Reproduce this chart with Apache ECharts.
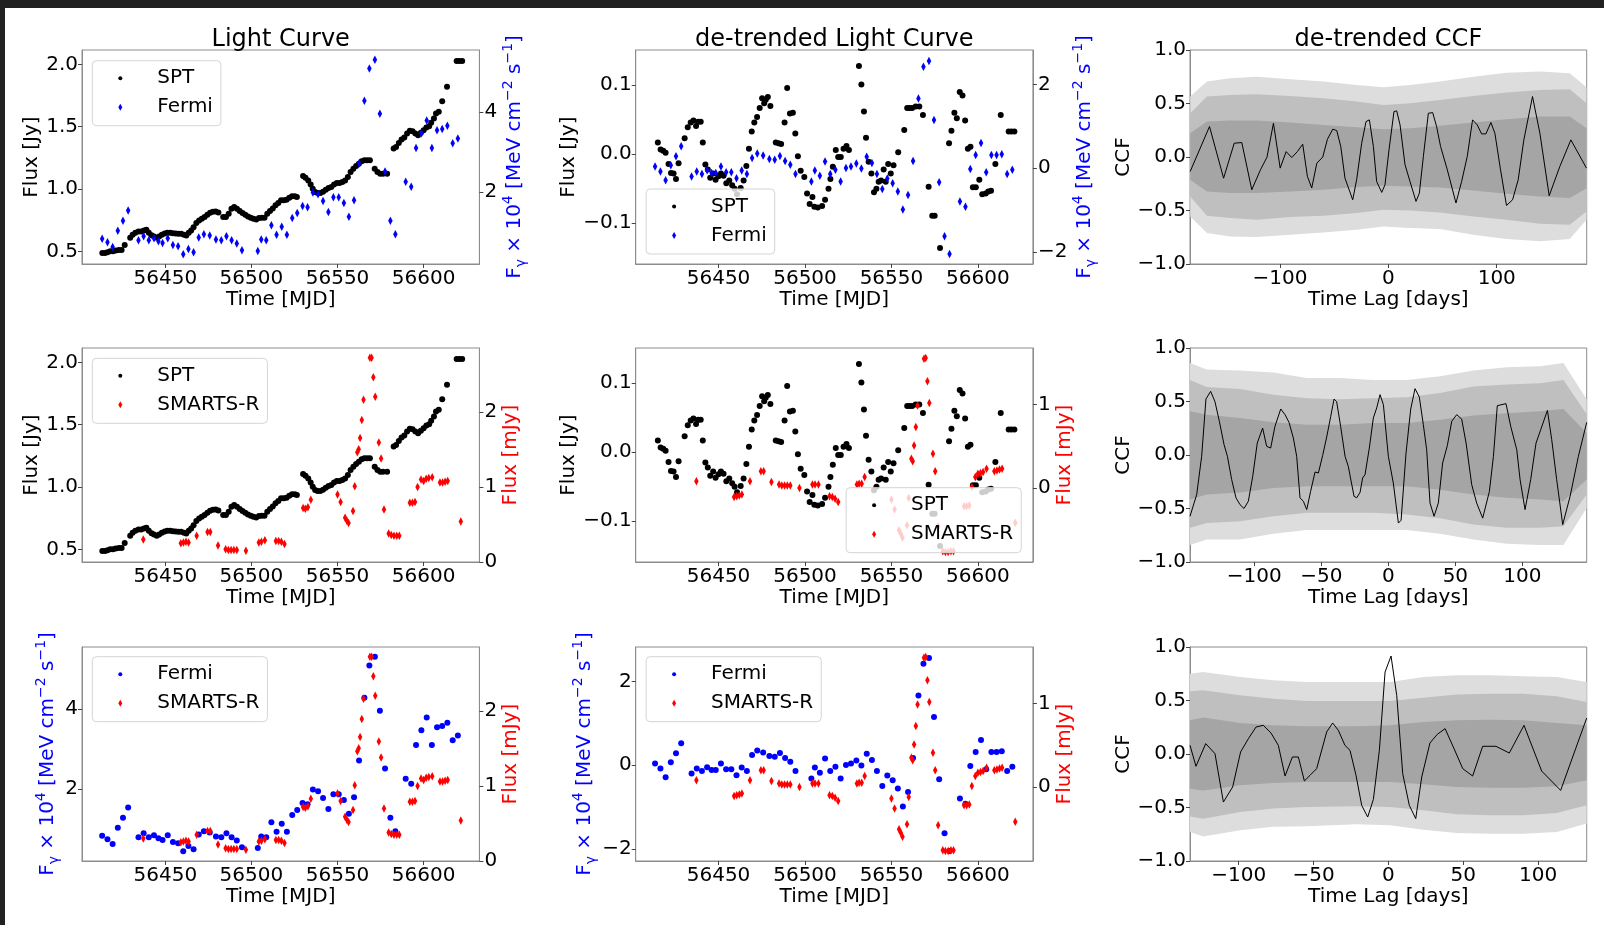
<!DOCTYPE html>
<html>
<head>
<meta charset="utf-8">
<script src="https://cdn.jsdelivr.net/npm/echarts@6/dist/echarts.min.js"></script>
<style>
  html, body { margin: 0; padding: 0; background: #ffffff; width: 1604px; height: 925px; overflow: hidden; }
  #topbar { position: absolute; left: 0; top: 0; width: 1604px; height: 8px; background: #212121; }
  #leftbar { position: absolute; left: 0; top: 0; width: 5px; height: 925px; background: #212121; }
  #chart { position: absolute; left: 0; top: 0; width: 1604px; height: 925px; }
</style>
</head>
<body>
<div id="topbar"></div>
<div id="leftbar"></div>
<div id="chart"></div>
<script>
// ---------- SPT 150 GHz light curve (MJD, Jy) ----------
const SPT_T = [56413.4,56415.0,56416.4,56418.0,56419.6,56421.2,56423.0,56424.6,56426.4,56429.6,
  56431.0,56432.6,56434.4,56436.0,56437.6,56439.0,56440.4,56442.0,56443.4,56445.0,
  56446.4,56448.0,56449.6,56451.2,56452.8,56454.4,56456.0,56457.6,56459.2,56460.8,
  56462.2,56463.6,56465.0,56466.4,56468.0,56469.6,56471.2,56472.8,56474.4,56476.0,
  56477.6,56479.2,56480.8,56483.6,56485.2,56486.8,56488.4,56490.0,56491.6,56493.2,
  56494.8,56496.4,56498.0,56499.6,56501.2,56502.8,56504.4,56506.0,56507.6,56509.2,
  56510.8,56512.4,56514.0,56515.6,56517.2,56518.8,56520.4,56522.0,56523.6,56525.2,
  56526.4,56530.0,56531.4,56533.0,56534.4,56535.6,56537.0,56538.4,56540.0,56541.6,
  56543.2,56544.8,56546.4,56548.0,56549.6,56551.2,56552.8,56554.4,56556.0,56557.6,
  56559.2,56560.8,56562.4,56564.0,56565.6,56567.2,56568.8,56571.6,56573.2,56574.8,
  56576.4,56578.8,56582.6,56584.0,56585.6,56587.2,56588.8,56590.4,56592.0,56593.6,
  56595.2,56596.8,56598.4,56600.0,56601.6,56603.2,56604.4,56606.0,56607.2,56608.8,
  56610.8,56613.6,56619.2,56620.8,56622.4];
const SPT_F = [0.489,0.489,0.494,0.503,0.503,0.508,0.513,0.513,0.553,0.610,
  0.634,0.650,0.661,0.661,0.669,0.674,0.650,0.631,0.620,0.610,
  0.620,0.634,0.645,0.650,0.650,0.647,0.645,0.642,0.642,0.634,
  0.628,0.650,0.669,0.695,0.728,0.749,0.762,0.776,0.795,0.811,
  0.819,0.821,0.813,0.776,0.776,0.803,0.843,0.856,0.843,0.824,
  0.808,0.795,0.781,0.770,0.762,0.757,0.768,0.770,0.770,0.803,
  0.824,0.845,0.870,0.888,0.910,0.910,0.915,0.931,0.942,0.942,
  0.936,1.105,1.092,1.070,1.038,1.003,0.977,0.969,0.969,0.979,
  0.995,1.009,1.017,1.038,1.049,1.049,1.057,1.070,1.097,1.137,
  1.164,1.186,1.204,1.223,1.231,1.231,1.231,1.164,1.137,1.124,
  1.124,1.124,1.325,1.338,1.370,1.397,1.413,1.445,1.467,1.464,
  1.445,1.432,1.451,1.472,1.494,1.504,1.531,1.566,1.606,1.620,
  1.705,1.821,2.027,2.027,2.027];

// ---------- de-trended SPT (Jy) ----------
const SPT_DT_T = [56414.9,56416.5,56418.0,56419.4,56421.1,56422.5,56424.0,56425.4,56426.9,56430.4,
  56432.2,56433.9,56435.5,56437.0,56438.2,56439.7,56440.9,56442.4,56443.8,56445.2,
  56446.9,56448.3,56450.0,56451.4,56452.9,56454.5,56456.2,56457.9,56459.3,56460.7,
  56462.8,56464.5,56466.1,56467.6,56469.2,56470.7,56472.3,56473.8,56475.2,56476.4,
  56477.3,56478.5,56480.0,56483.1,56484.7,56486.2,56488.2,56489.7,56491.3,56493.0,
  56494.4,56495.9,56497.5,56499.6,56501.2,56502.7,56504.3,56505.4,56507.4,56509.9,
  56511.6,56513.6,56514.7,56516.1,56517.8,56519.2,56520.7,56522.3,56524.0,56525.4,
  56531.2,56532.6,56534.1,56535.3,56536.8,56538.4,56539.9,56541.3,56542.6,56544.0,
  56545.5,56546.7,56548.1,56549.6,56551.2,56553.9,56557.4,56559.1,56560.5,56562.0,
  56564.0,56566.1,56568.2,56571.5,56573.6,56575.0,56578.1,56583.3,56584.7,56586.4,
  56587.8,56589.5,56591.1,56592.6,56594.2,56595.7,56597.1,56598.8,56600.8,56602.5,
  56604.5,56606.0,56607.6,56610.1,56613.2,56617.8,56619.4,56621.1];
const SPT_DT_F = [0.017,0.007,0.005,0.002,-0.014,-0.027,-0.028,-0.036,-0.013,0.023,
  0.039,0.046,0.049,0.041,0.047,0.047,0.017,-0.015,-0.022,-0.034,
  -0.028,-0.037,-0.032,-0.028,-0.031,-0.042,-0.038,-0.045,-0.050,-0.058,
  -0.049,-0.038,-0.017,0.008,0.033,0.046,0.054,0.067,0.081,0.074,
  0.079,0.083,0.070,0.017,0.016,0.015,0.046,0.096,0.059,0.060,
  0.030,-0.003,-0.024,-0.033,-0.057,-0.072,-0.062,-0.076,-0.077,-0.075,
  -0.066,-0.050,-0.036,-0.018,0.006,-0.004,-0.004,0.008,0.012,0.006,
  0.128,0.101,0.062,0.024,-0.011,-0.028,-0.055,-0.050,-0.040,-0.038,
  -0.022,-0.040,-0.014,-0.028,-0.016,0.003,0.035,0.067,0.067,0.067,
  0.069,0.069,0.057,-0.047,-0.089,-0.089,-0.136,0.016,0.034,0.060,
  0.052,0.090,0.085,0.049,0.008,0.011,-0.048,-0.048,-0.037,-0.058,
  -0.057,-0.054,-0.053,-0.014,0.057,0.033,0.033,0.033];

// ---------- Fermi-LAT gamma-ray flux (x 1e4 MeV cm^-2 s^-1) ----------
const FERMI_T = [56413.3,56416.4,56419.4,56422.4,56425.4,56428.4,56434.4,56437.4,56440.4,56443.4,
  56446.0,56448.4,56451.4,56454.4,56457.4,56460.4,56463.4,56466.4,56469.4,56472.4,
  56475.8,56479.4,56482.5,56485.5,56488.5,56491.5,56494.5,56503.7,56505.7,56508.6,
  56511.6,56514.6,56517.6,56520.6,56523.7,56526.6,56529.7,56532.6,56535.7,56538.7,
  56541.6,56544.7,56547.6,56550.7,56553.7,56556.6,56559.6,56562.5,56565.6,56568.5,
  56571.7,56574.6,56577.6,56580.7,56583.6,56589.6,56592.8,56595.6,56598.7,56601.8,
  56604.8,56607.8,56610.8,56613.8,56616.9,56619.9];
const FERMI_F = [0.82,0.73,0.61,1.02,1.27,1.53,0.78,0.88,0.78,0.83,
  0.76,0.71,0.83,0.66,0.63,0.43,0.56,0.48,0.85,0.93,
  0.90,0.80,0.78,0.88,0.78,0.70,0.53,0.51,0.80,0.78,
  1.16,0.92,1.12,0.92,1.34,1.47,1.64,1.61,1.98,1.94,
  1.77,1.49,1.86,1.86,1.72,1.37,1.79,2.71,4.29,5.10,
  5.32,3.96,2.51,1.27,0.93,2.25,2.13,3.10,3.47,3.79,
  3.10,3.55,3.58,3.66,3.22,3.34];
const FERMI_DT = [0.04,-0.08,-0.29,0.07,0.28,0.52,-0.20,-0.08,-0.14,-0.05,
  -0.12,-0.12,0.04,-0.10,-0.10,-0.24,-0.06,-0.14,0.24,0.35,
  0.30,0.22,0.20,0.29,0.17,0.08,-0.14,-0.32,-0.06,-0.18,
  0.16,-0.14,-0.04,-0.32,0.00,0.04,0.11,-0.01,0.27,0.12,
  -0.14,-0.50,-0.25,-0.36,-0.56,-0.99,-0.64,0.17,1.66,2.42,
  2.56,1.15,-0.34,-1.63,-2.05,-0.80,-0.92,-0.02,0.31,0.60,
  -0.10,0.31,0.31,0.33,-0.14,-0.04];

// ---------- SMARTS R-band flux (mJy) ----------
const SMARTS_T = [56437.2,56459.0,56460.5,56462.0,56463.5,56468.2,56474.5,56476.1,56480.6,56485.0,
  56486.6,56488.2,56489.8,56491.5,56496.8,56504.3,56505.8,56507.8,56514.2,56515.8,
  56517.4,56519.2,56530.0,56531.3,56532.8,56534.5,56550.0,56551.8,56554.4,56555.4,
  56556.4,56559.0,56560.0,56561.5,56562.3,56563.1,56564.1,56565.1,56568.8,56569.8,
  56570.8,56571.9,56574.0,56575.3,56577.0,56579.7,56581.2,56582.8,56584.4,56585.9,
  56592.0,56593.5,56595.0,56596.5,56598.5,56600.0,56601.5,56603.0,56605.0,56609.5,
  56611.0,56612.5,56614.0,56621.6];
const SMARTS_F = [0.30,0.25,0.26,0.27,0.26,0.35,0.40,0.40,0.22,0.17,
  0.16,0.16,0.16,0.16,0.15,0.26,0.27,0.29,0.28,0.28,
  0.27,0.24,0.72,0.71,0.73,0.83,0.90,0.80,0.59,0.55,
  0.52,0.68,1.01,1.46,1.50,1.65,1.89,2.16,2.72,2.72,
  2.46,2.20,1.59,1.38,0.70,0.38,0.36,0.35,0.35,0.35,
  0.79,0.79,0.80,1.00,1.10,1.08,1.11,1.12,1.13,1.06,
  1.06,1.07,1.08,0.54];
const SMARTS_DT = [0.08,-0.11,-0.10,-0.09,-0.08,0.08,0.20,0.20,0.07,0.04,
  0.03,0.03,0.03,0.03,0.00,0.04,0.04,0.04,-0.10,-0.11,
  -0.13,-0.17,0.04,0.05,0.05,0.13,-0.14,-0.26,-0.51,-0.55,
  -0.60,-0.45,-0.12,0.35,0.32,0.51,0.73,0.99,1.55,1.56,
  1.28,1.02,0.41,0.20,-0.46,-0.76,-0.77,-0.77,-0.76,-0.76,
  -0.22,-0.22,-0.21,0.01,0.13,0.17,0.18,0.19,0.23,0.20,
  0.21,0.22,0.23,-0.42];

// ---------- CCF: SPT vs Fermi ----------
const CCF1_LAG = [-182.8,-165,-152,-142.2,-135.2,-126,-118,-112,-106,-99.8,-94.3,-89.1,-83.9,-79,-74.7,-70.7,-66,-60.5,-56.2,-51.3,-47.6,-43.9,-40,-32.9,-29.2,-24.6,-20.6,-17.5,-13.8,-10.8,-6.1,-3.1,0.6,5.2,7.7,10.8,15.4,20,25.5,28.6,32.3,36.9,40.9,44.5,48.2,54.4,62.4,67.6,72.8,77.7,82,86,90,94.6,98.3,103.5,109,114.6,119.8,125,133,139.8,148.4,158.2,168.4,182.8];
const CCF1_VAL = [-0.135,0.285,-0.198,0.129,0.135,-0.306,-0.12,-0.002,0.316,-0.104,0.05,-0.005,0.051,0.12,-0.18,-0.29,-0.058,0.0,0.166,0.26,0.247,0.098,-0.198,-0.40,-0.21,0.129,0.331,0.347,0.098,-0.23,-0.331,-0.26,0.067,0.425,0.431,0.30,-0.073,-0.229,-0.415,-0.338,0.005,0.409,0.415,0.285,0.098,-0.12,-0.43,-0.229,0.005,0.347,0.30,0.216,0.216,0.322,0.222,-0.12,-0.453,-0.40,-0.213,0.16,0.565,0.222,-0.362,-0.089,0.16,-0.104];
const CCF1_BAND_LAG = [-182.8,-167.4,-145.9,-121.4,-90.6,-59.9,-29.2,-4.6,20.0,47.6,78.3,109.1,139.8,167.4,182.8];
const CCF1_OUT_UP = [0.565,0.705,0.736,0.751,0.726,0.705,0.673,0.652,0.673,0.705,0.751,0.788,0.798,0.782,0.652];
const CCF1_OUT_LO = [-0.555,-0.711,-0.742,-0.748,-0.726,-0.705,-0.680,-0.649,-0.664,-0.673,-0.726,-0.767,-0.788,-0.767,-0.586];
const CCF1_MID_UP = [0.409,0.565,0.580,0.586,0.571,0.549,0.518,0.487,0.502,0.533,0.571,0.602,0.627,0.633,0.502];
const CCF1_MID_LO = [-0.369,-0.549,-0.571,-0.586,-0.561,-0.549,-0.524,-0.493,-0.499,-0.518,-0.555,-0.586,-0.624,-0.633,-0.509];
const CCF1_IN_UP = [0.222,0.331,0.341,0.341,0.322,0.300,0.278,0.260,0.269,0.291,0.322,0.353,0.378,0.378,0.269];
const CCF1_IN_LO = [-0.213,-0.322,-0.337,-0.337,-0.322,-0.306,-0.281,-0.269,-0.275,-0.285,-0.313,-0.344,-0.369,-0.384,-0.291];

// ---------- CCF: SPT vs SMARTS-R ----------
const CCF2_LAG = [-148,-143,-139.3,-136.1,-132.6,-129.4,-126.1,-122.6,-120.1,-116.9,-113.7,-110.7,-107.7,-104.5,-101.2,-97.8,-93.8,-90.8,-87.8,-84.6,-80.3,-77.1,-74.1,-70.9,-68.4,-65.9,-63.4,-60.9,-58,-54.7,-52.2,-49,-46,-43,-40.5,-38.6,-35.6,-32.3,-29.9,-25.6,-23.6,-21.1,-19.2,-17.4,-14.2,-11.2,-8.7,-6.2,-3.7,0,3.7,7.5,9.5,13.2,16.7,19.9,23.1,26.1,28.6,31.1,34.1,37.3,40.5,44,47.3,51,54.7,58,62.2,65.9,70.4,75.4,78.4,81.3,87.8,91.3,95.8,98.3,102,106.2,110.2,113.7,118.7,121.9,125.6,130.1,135.6,141.8,148];
const CCF2_VAL = [-0.573,-0.37,-0.012,0.523,0.595,0.50,0.315,0.097,-0.012,-0.23,-0.40,-0.464,-0.50,-0.433,-0.20,0.112,0.252,0.081,0.065,0.268,0.43,0.377,0.305,0.159,-0.012,-0.40,-0.433,-0.51,-0.34,-0.159,-0.168,-0.003,0.168,0.361,0.523,0.50,0.268,-0.012,-0.106,-0.386,-0.40,-0.349,-0.215,-0.184,0.065,0.346,0.44,0.564,0.47,-0.012,-0.262,-0.636,-0.61,0.019,0.43,0.62,0.542,0.283,0.05,-0.449,-0.573,-0.449,-0.075,0.087,0.315,0.377,0.336,0.112,-0.277,-0.449,-0.59,-0.34,-0.012,0.461,0.48,0.268,0.05,-0.23,-0.51,-0.23,0.112,0.237,0.417,0.143,-0.23,-0.651,-0.386,-0.012,0.305];
const CCF2_BAND_LAG = [-148,-135.6,-110.7,-85.8,-60.9,-36.1,-11.2,13.7,38.6,63.4,88.3,113.2,130.6,148];
const CCF2_OUT_UP = [0.86,0.80,0.79,0.77,0.72,0.72,0.70,0.70,0.735,0.79,0.82,0.83,0.86,0.52];
const CCF2_OUT_LO = [-0.84,-0.79,-0.79,-0.735,-0.70,-0.70,-0.70,-0.70,-0.735,-0.79,-0.83,-0.84,-0.84,-0.495];
const CCF2_MID_UP = [0.70,0.635,0.617,0.564,0.53,0.52,0.53,0.54,0.58,0.64,0.66,0.67,0.70,0.38];
const CCF2_MID_LO = [-0.68,-0.635,-0.62,-0.573,-0.54,-0.54,-0.54,-0.557,-0.59,-0.65,-0.68,-0.68,-0.667,-0.37];
const CCF2_IN_UP = [0.41,0.377,0.346,0.305,0.283,0.283,0.30,0.30,0.33,0.368,0.39,0.41,0.43,0.206];
const CCF2_IN_LO = [-0.417,-0.37,-0.35,-0.308,-0.293,-0.293,-0.293,-0.293,-0.324,-0.37,-0.40,-0.417,-0.433,-0.23];

// ---------- CCF: Fermi vs SMARTS-R ----------
const CCF3_LAG = [-132.5,-128.5,-122,-115.8,-110.2,-104,-98.7,-93.5,-88.4,-83.5,-78.4,-73.5,-69,-64.1,-60.1,-56.1,-52.3,-47.9,-41.2,-37.2,-33.4,-29,-25.6,-21.6,-17.8,-13.8,-10,-6,-2.2,1.8,5.6,9.6,14,18.3,22.3,27.8,32.7,37.9,43.4,49.7,56.3,63,71.9,80.8,90.6,102.4,115.1,132.5];
const CCF3_VAL = [0.081,-0.115,0.097,0.003,-0.449,-0.308,0.019,0.143,0.252,0.268,0.196,0.081,-0.206,-0.028,-0.028,-0.252,-0.199,-0.137,0.206,0.29,0.221,0.081,0.034,-0.199,-0.48,-0.589,-0.424,0.034,0.766,0.916,0.548,-0.184,-0.48,-0.604,-0.215,0.103,0.184,0.237,0.065,-0.137,-0.206,0.072,0.072,0.009,0.268,-0.159,-0.34,0.336];
const CCF3_BAND_LAG = [-132.5,-123.6,-99.1,-76.8,-54.6,-21.2,1.1,23.4,45.7,67.9,90.2,112.5,132.5];
const CCF3_OUT_UP = [0.75,0.766,0.72,0.69,0.673,0.673,0.673,0.72,0.735,0.735,0.726,0.72,0.673];
const CCF3_OUT_LO = [-0.73,-0.77,-0.713,-0.68,-0.676,-0.657,-0.667,-0.707,-0.738,-0.745,-0.745,-0.73,-0.65];
const CCF3_MID_UP = [0.586,0.595,0.548,0.517,0.495,0.495,0.495,0.526,0.557,0.564,0.564,0.539,0.486];
const CCF3_MID_LO = [-0.583,-0.604,-0.542,-0.51,-0.495,-0.489,-0.495,-0.526,-0.564,-0.573,-0.573,-0.551,-0.48];
const CCF3_IN_UP = [0.315,0.34,0.29,0.268,0.259,0.259,0.268,0.30,0.315,0.32,0.315,0.29,0.268];
const CCF3_IN_LO = [-0.324,-0.34,-0.293,-0.271,-0.262,-0.262,-0.262,-0.283,-0.308,-0.315,-0.315,-0.302,-0.246];

// ---------- tick values ----------
const TIME_TICKS = [56450, 56500, 56550, 56600];
const SPT_TICKS = [0.5, 1.0, 1.5, 2.0];
const SPT_DT_TICKS = [-0.1, 0.0, 0.1];
const FERMI_TICKS = [2, 4];
const FERMI_DT_TICKS = [-2, 0, 2];
const SMARTS_TICKS = [0, 1, 2];
const SMARTS_DT_TICKS = [0, 1];
const CCF_Y_TICKS = [-1.0, -0.5, 0.0, 0.5, 1.0];
const LAG_TICKS_WIDE = [-100, 0, 100];
const LAG_TICKS = [-100, -50, 0, 50, 100];

// ---------- styling ----------
const FONT = 'DejaVu Sans';
const FS = 20;
const FRAME = '#8c8c8c';
const BLUE = '#0000ff', RED = '#ff0000', BLACK = '#000000';
const BAND_OUT = '#dddddd', BAND_MID = '#bfbfbf', BAND_IN = '#a5a5a5';

const zip = (a, b) => a.map((v, i) => [v, b[i]]);
const fmtTick = d => v => v.toFixed(d).replace('-', '\u2212');

const FERMI_NAME = '{n|F}{sub|\u03b3}{n| \u00d7 10}{sup|4}{n| [MeV cm}{sup|\u22122}{n| s}{sup|\u22121}{n|]}';
const fermiRich = color => ({
  n: { fontFamily: FONT, fontSize: FS, color, lineHeight: 27, verticalAlign: 'middle' },
  sup: { fontFamily: FONT, fontSize: 14, color, lineHeight: 14, verticalAlign: 'top' },
  sub: { fontFamily: FONT, fontSize: 14, color, lineHeight: 18, verticalAlign: 'bottom' }
});

const grid = [], xAxis = [], yAxis = [], series = [], legend = [], title = [];

const COLS = [{ left: 82, width: 397.4 }, { left: 635.7, width: 397.2 }, { left: 1190, width: 396.7 }];
const ROWS = [50, 348, 647];
const PLOT_H = 214;

function addGrid(c, r) {
  grid.push({ left: COLS[c].left, top: ROWS[r], width: COLS[c].width, height: PLOT_H,
    show: true, borderColor: FRAME, borderWidth: 1, backgroundColor: 'rgba(0,0,0,0)' });
  return grid.length - 1;
}

function addX(g, min, max, ticks, dec, name) {
  xAxis.push({
    type: 'value', gridIndex: g, min, max,
    name, nameLocation: 'middle', nameGap: 25,
    nameTextStyle: { fontFamily: FONT, fontSize: FS, color: BLACK },
    axisLine: { show: true, onZero: false, lineStyle: { color: FRAME } },
    axisTick: { show: true, length: 4, customValues: ticks, lineStyle: { color: '#444' } },
    axisLabel: { customValues: ticks, formatter: fmtTick(dec), margin: 5, fontFamily: FONT, fontSize: FS, color: BLACK },
    splitLine: { show: false }
  });
  return xAxis.length - 1;
}

function addY(g, min, max, ticks, dec, side, name, gap, color, rich) {
  const nts = { fontFamily: FONT, fontSize: FS, color };
  if (rich) nts.rich = rich;
  yAxis.push({
    type: 'value', gridIndex: g, min, max, position: side,
    name, nameLocation: 'middle', nameGap: gap, nameRotate: 90,
    nameTextStyle: nts,
    axisLine: { show: true, onZero: false, lineStyle: { color: FRAME } },
    axisTick: { show: true, length: 4, customValues: ticks, lineStyle: { color: '#444' } },
    axisLabel: { customValues: ticks, formatter: fmtTick(dec), margin: side === 'left' ? 4 : 5, fontFamily: FONT, fontSize: FS, color: BLACK },
    splitLine: { show: false }
  });
  return yAxis.length - 1;
}

function addScatter(name, xi, yi, T, V, symbol, size, color, z) {
  series.push({ type: 'scatter', name, xAxisIndex: xi, yAxisIndex: yi, data: zip(T, V),
    symbol, symbolSize: size, itemStyle: { color, opacity: 1 }, z, silent: true });
}

function addBand(xi, yi, lag, up, lo, color, z) {
  series.push({ type: 'custom', xAxisIndex: xi, yAxisIndex: yi, silent: true, z,
    data: [[lag[0], up[0]]],
    renderItem: (params, api) => {
      const pts = lag.map((l, i) => api.coord([l, up[i]]));
      for (let i = lag.length - 1; i >= 0; i--) pts.push(api.coord([lag[i], lo[i]]));
      return { type: 'polygon', shape: { points: pts }, style: { fill: color } };
    } });
}

function addCCF(col, row, range, lagTicks, lag, val, bands) {
  const g = addGrid(col, row);
  const xi = addX(g, -range, range, lagTicks, 0, 'Time Lag [days]');
  const yi = addY(g, -1, 1, CCF_Y_TICKS, 1, 'left', 'CCF', 52, BLACK);
  addBand(xi, yi, bands.lag, bands.outUp, bands.outLo, BAND_OUT, 1);
  addBand(xi, yi, bands.lag, bands.midUp, bands.midLo, BAND_MID, 2);
  addBand(xi, yi, bands.lag, bands.inUp, bands.inLo, BAND_IN, 3);
  series.push({ type: 'line', xAxisIndex: xi, yAxisIndex: yi, data: zip(lag, val),
    symbol: 'none', showSymbol: false, lineStyle: { color: BLACK, width: 1 }, z: 5, silent: true });
}

function addLegend(left, top, items) {
  legend.push({
    orient: 'vertical', left, top, padding: [3, 8, 4, 26], itemGap: 0, itemWidth: 4, itemHeight: 7,
    backgroundColor: 'rgba(255,255,255,0.8)', borderColor: '#d4d4d4', borderWidth: 1, borderRadius: 4,
    selectedMode: false, z: 10,
    textStyle: { fontFamily: FONT, fontSize: FS, color: BLACK, lineHeight: 29, padding: [0, 0, 0, 30] },
    data: items.map(([name, icon, color]) => ({ name, icon, itemStyle: { color, borderWidth: 0 } }))
  });
}

function addTitle(text, cx) {
  title.push({ text, left: cx, top: 28, textAlign: 'center', padding: 0,
    textStyle: { fontFamily: FONT, fontSize: 24, fontWeight: 'normal', color: BLACK } });
}

const DIAMOND = [4.5, 8.5];
const COL0_X = [56401.6, 56632.4];
const COL1_X = [56402.1, 56631.8];

// Row 1: light curves SPT + Fermi
{
  const g = addGrid(0, 0);
  const xi = addX(g, COL0_X[0], COL0_X[1], TIME_TICKS, 0, 'Time [MJD]');
  const yl = addY(g, 0.40, 2.115, SPT_TICKS, 1, 'left', 'Flux [Jy]', 28, BLACK);
  const yr = addY(g, 0.185, 5.565, FERMI_TICKS, 0, 'right', FERMI_NAME, 12, BLUE, fermiRich(BLUE));
  addScatter('SPT', xi, yl, SPT_T, SPT_F, 'circle', 6, BLACK, 2);
  addScatter('Fermi', xi, yr, FERMI_T, FERMI_F, 'diamond', DIAMOND, BLUE, 3);
  addLegend(92.3, 60.7, [['SPT', 'circle', BLACK], ['Fermi', 'diamond', BLUE]]);
}
{
  const g = addGrid(1, 0);
  const xi = addX(g, COL1_X[0], COL1_X[1], TIME_TICKS, 0, 'Time [MJD]');
  const yl = addY(g, -0.159, 0.151, SPT_DT_TICKS, 1, 'left', 'Flux [Jy]', 42, BLACK);
  const yr = addY(g, -2.29, 2.82, FERMI_DT_TICKS, 0, 'right', FERMI_NAME, 26.5, BLUE, fermiRich(BLUE));
  addScatter('SPT', xi, yl, SPT_DT_T, SPT_DT_F, 'circle', 6, BLACK, 2);
  addScatter('Fermi', xi, yr, FERMI_T, FERMI_DT, 'diamond', DIAMOND, BLUE, 3);
  addLegend(646.1, 189, [['SPT', 'circle', BLACK], ['Fermi', 'diamond', BLUE]]);
}
addCCF(2, 0, 183, LAG_TICKS_WIDE, CCF1_LAG, CCF1_VAL, { lag: CCF1_BAND_LAG,
  outUp: CCF1_OUT_UP, outLo: CCF1_OUT_LO, midUp: CCF1_MID_UP, midLo: CCF1_MID_LO, inUp: CCF1_IN_UP, inLo: CCF1_IN_LO });

// Row 2: SPT + SMARTS-R
{
  const g = addGrid(0, 1);
  const xi = addX(g, COL0_X[0], COL0_X[1], TIME_TICKS, 0, 'Time [MJD]');
  const yl = addY(g, 0.40, 2.115, SPT_TICKS, 1, 'left', 'Flux [Jy]', 28, BLACK);
  const yr = addY(g, 0, 2.85, SMARTS_TICKS, 0, 'right', 'Flux [mJy]', 9, RED);
  addScatter('SPT', xi, yl, SPT_T, SPT_F, 'circle', 6, BLACK, 2);
  addScatter('SMARTS-R', xi, yr, SMARTS_T, SMARTS_F, 'diamond', DIAMOND, RED, 3);
  addLegend(92.3, 358.3, [['SPT', 'circle', BLACK], ['SMARTS-R', 'diamond', RED]]);
}
{
  const g = addGrid(1, 1);
  const xi = addX(g, COL1_X[0], COL1_X[1], TIME_TICKS, 0, 'Time [MJD]');
  const yl = addY(g, -0.159, 0.151, SPT_DT_TICKS, 1, 'left', 'Flux [Jy]', 42, BLACK);
  const yr = addY(g, -0.89, 1.68, SMARTS_DT_TICKS, 0, 'right', 'Flux [mJy]', 9.5, RED);
  addScatter('SPT', xi, yl, SPT_DT_T, SPT_DT_F, 'circle', 6, BLACK, 2);
  addScatter('SMARTS-R', xi, yr, SMARTS_T, SMARTS_DT, 'diamond', DIAMOND, RED, 3);
  addLegend(846.1, 487.7, [['SPT', 'circle', BLACK], ['SMARTS-R', 'diamond', RED]]);
}
addCCF(2, 1, 148, LAG_TICKS, CCF2_LAG, CCF2_VAL, { lag: CCF2_BAND_LAG,
  outUp: CCF2_OUT_UP, outLo: CCF2_OUT_LO, midUp: CCF2_MID_UP, midLo: CCF2_MID_LO, inUp: CCF2_IN_UP, inLo: CCF2_IN_LO });

// Row 3: Fermi + SMARTS-R
{
  const g = addGrid(0, 2);
  const xi = addX(g, COL0_X[0], COL0_X[1], TIME_TICKS, 0, 'Time [MJD]');
  const yl = addY(g, 0.185, 5.565, FERMI_TICKS, 0, 'left', FERMI_NAME, 13, BLUE, fermiRich(BLUE));
  const yr = addY(g, 0, 2.85, SMARTS_TICKS, 0, 'right', 'Flux [mJy]', 10.5, RED);
  addScatter('Fermi', xi, yl, FERMI_T, FERMI_F, 'circle', 6, BLUE, 2);
  addScatter('SMARTS-R', xi, yr, SMARTS_T, SMARTS_F, 'diamond', DIAMOND, RED, 3);
  addLegend(92.3, 656.7, [['Fermi', 'circle', BLUE], ['SMARTS-R', 'diamond', RED]]);
}
{
  const g = addGrid(1, 2);
  const xi = addX(g, COL1_X[0], COL1_X[1], TIME_TICKS, 0, 'Time [MJD]');
  const yl = addY(g, -2.29, 2.82, FERMI_DT_TICKS, 0, 'left', FERMI_NAME, 22, BLUE, fermiRich(BLUE));
  const yr = addY(g, -0.89, 1.68, SMARTS_DT_TICKS, 0, 'right', 'Flux [mJy]', 9.5, RED);
  addScatter('Fermi', xi, yl, FERMI_T, FERMI_DT, 'circle', 6, BLUE, 2);
  addScatter('SMARTS-R', xi, yr, SMARTS_T, SMARTS_DT, 'diamond', DIAMOND, RED, 3);
  addLegend(646.1, 656.7, [['Fermi', 'circle', BLUE], ['SMARTS-R', 'diamond', RED]]);
}
addCCF(2, 2, 132.5, LAG_TICKS, CCF3_LAG, CCF3_VAL, { lag: CCF3_BAND_LAG,
  outUp: CCF3_OUT_UP, outLo: CCF3_OUT_LO, midUp: CCF3_MID_UP, midLo: CCF3_MID_LO, inUp: CCF3_IN_UP, inLo: CCF3_IN_LO });

addTitle('Light Curve', 280.7);
addTitle('de-trended Light Curve', 834.3);
addTitle('de-trended CCF', 1388.4);

const chart = echarts.init(document.getElementById('chart'), null, { renderer: 'canvas' });
chart.setOption({
  animation: false,
  backgroundColor: 'rgba(0,0,0,0)',
  textStyle: { fontFamily: FONT },
  title, grid, xAxis, yAxis, legend, series
});
</script>
</body>
</html>
